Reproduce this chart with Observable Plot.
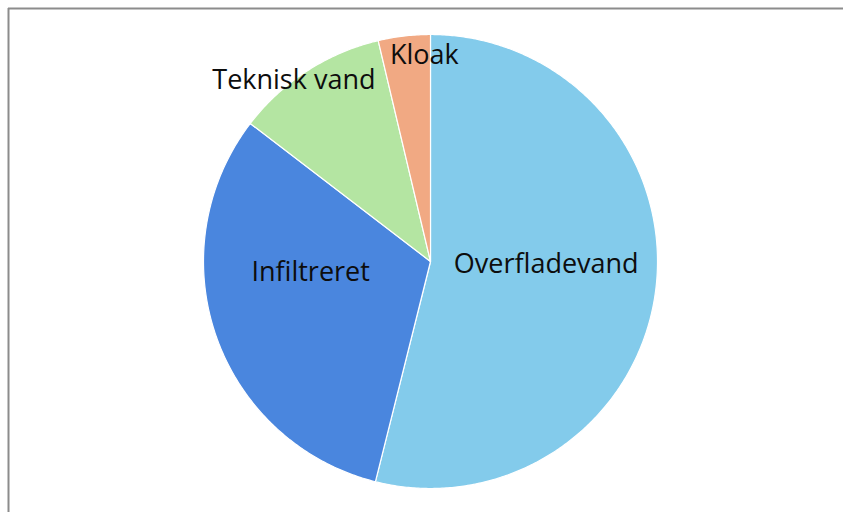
<!DOCTYPE html>
<html>
<head>
<meta charset="utf-8">
<script src="https://cdn.jsdelivr.net/npm/d3@7"></script>
<script src="https://cdn.jsdelivr.net/npm/@observablehq/plot@0.6"></script>
<style>
  html, body { margin: 0; padding: 0; background: #fff; }
  #chart svg { display: block; }
</style>
</head>
<body>
<div id="chart"></div>
<script>
// Data
const categories = ["Overfladevand", "Infiltreret", "Teknisk vand", "Kloak"];
const shares = [53.9, 31.5, 10.9, 3.7];
const colors = ["#83CBEB", "#4A86DE", "#B4E5A2", "#F1A983"];

// Label placement (polar: degrees clockwise from 12 o'clock, fraction of radius)
const labelAngles = [91.5, 265, 323, 358.3];
const labelRadii = [0.51, 0.53, 1.0, 0.91];

// Layout
const W = 843, H = 512;
const cx = 430, cy = 261, R = 227;
const mLeft = 8, mTop = 8;

const pie = d3.pie().sort(null).value(d => d)(shares);

const slicePts = [];
pie.forEach((p, i) => {
  const name = categories[i];
  slicePts.push({name, x: 0, y: 0});
  const steps = Math.max(2, Math.ceil((p.endAngle - p.startAngle) / (Math.PI / 360)));
  for (let k = 0; k <= steps; k++) {
    const a = p.startAngle + (p.endAngle - p.startAngle) * k / steps;
    slicePts.push({name, x: Math.sin(a), y: Math.cos(a)});
  }
});

const labels = categories.map((name, i) => {
  const a = labelAngles[i] * Math.PI / 180;
  return {name, x: labelRadii[i] * Math.sin(a), y: labelRadii[i] * Math.cos(a)};
});

const xDom = [(mLeft - cx) / R, (W - cx) / R];
const yDom = [-(H - cy) / R, (cy - mTop) / R];

const chart = Plot.plot({
  width: W,
  height: H,
  marginLeft: mLeft,
  marginTop: mTop,
  marginRight: 0,
  marginBottom: 0,
  x: {domain: xDom, axis: null},
  y: {domain: yDom, axis: null},
  color: {domain: categories, range: colors},
  style: {fontFamily: "'Open Sans', sans-serif", background: "#fff"},
  marks: [
    Plot.ruleX([xDom[0]], {stroke: "#8c8c8c", strokeWidth: 2}),
    Plot.ruleY([yDom[1]], {stroke: "#8c8c8c", strokeWidth: 2}),
    Plot.line(slicePts, {x: "x", y: "y", z: "name", fill: "name", stroke: "white", strokeWidth: 1.2, curve: "linear-closed"}),
    Plot.text(labels, {x: "x", y: "y", text: "name", fontSize: 27, fill: "#0d0d0d", textAnchor: "middle", letterSpacing: "-0.3px"})
  ]
});

document.getElementById("chart").appendChild(chart);
</script>
</body>
</html>
